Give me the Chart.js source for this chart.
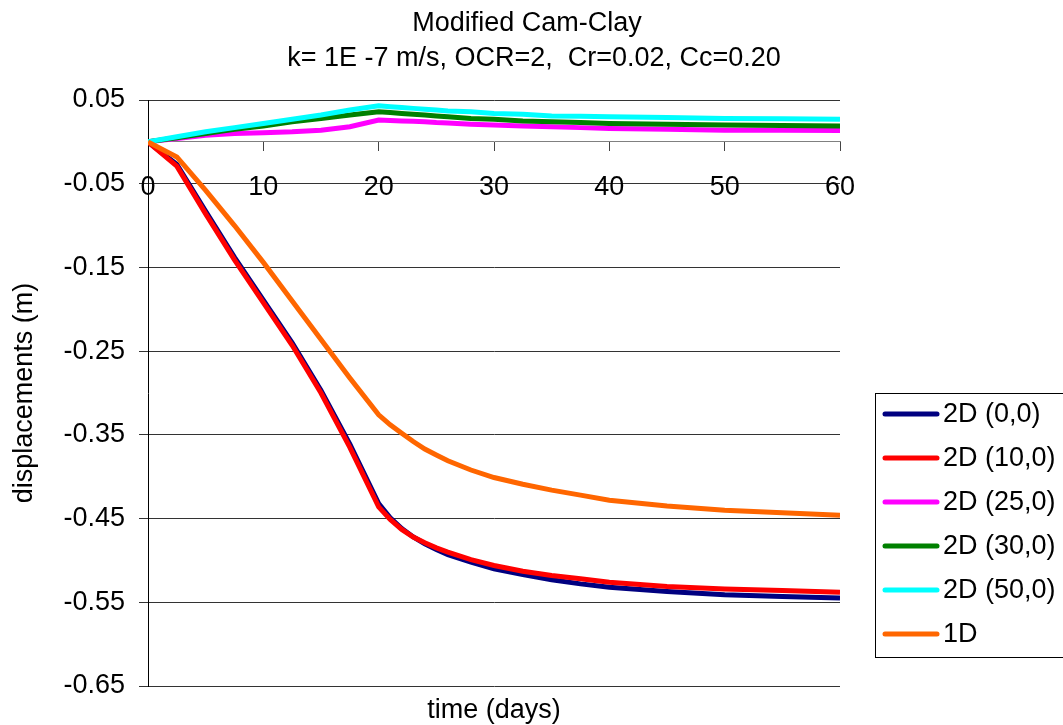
<!DOCTYPE html>
<html>
<head>
<meta charset="utf-8">
<title>Modified Cam-Clay</title>
<script src="https://cdn.jsdelivr.net/npm/chart.js@4/dist/chart.umd.min.js"></script>
<style>
  html, body { margin: 0; padding: 0; background: #fff; }
  canvas { display: block; }
</style>
</head>
<body>
<canvas id="c" width="1063" height="725"></canvas>
<script>
// Time steps (days)
const days = [0, 2.5, 5, 7.5, 10, 12.5, 15, 17.5, 20, 21, 22, 23, 24, 25, 26, 28, 30, 32.5, 35, 37.5, 40, 45, 50, 55, 60];

// Vertical displacements (m) at each monitoring point
const d2D_0_0  = [0, -0.027, -0.083, -0.138, -0.189, -0.240, -0.297, -0.361, -0.432, -0.449, -0.462, -0.472, -0.480, -0.487, -0.493, -0.502, -0.510, -0.517, -0.523, -0.528, -0.532, -0.537, -0.541, -0.543, -0.545];
const d2D_10_0 = [0, -0.029, -0.086, -0.141, -0.192, -0.243, -0.300, -0.365, -0.436, -0.451, -0.463, -0.472, -0.479, -0.485, -0.490, -0.499, -0.506, -0.513, -0.518, -0.522, -0.526, -0.531, -0.534, -0.536, -0.538];
const d2D_25_0 = [0, 0.004, 0.008, 0.010, 0.011, 0.012, 0.014, 0.018, 0.026, 0.0255, 0.025, 0.0245, 0.024, 0.023, 0.0225, 0.021, 0.020, 0.019, 0.018, 0.017, 0.016, 0.015, 0.014, 0.0138, 0.0135];
const d2D_30_0 = [0, 0.005, 0.010, 0.015, 0.019, 0.024, 0.028, 0.032, 0.036, 0.035, 0.034, 0.033, 0.032, 0.031, 0.030, 0.028, 0.027, 0.025, 0.024, 0.023, 0.022, 0.021, 0.020, 0.0195, 0.019];
const d2D_50_0 = [0, 0.006, 0.012, 0.017, 0.022, 0.027, 0.032, 0.038, 0.043, 0.042, 0.041, 0.040, 0.039, 0.038, 0.037, 0.036, 0.034, 0.033, 0.031, 0.0305, 0.030, 0.029, 0.028, 0.0275, 0.027];
const d1D      = [0, -0.018, -0.058, -0.100, -0.144, -0.190, -0.236, -0.282, -0.326, -0.338, -0.348, -0.358, -0.367, -0.374, -0.381, -0.392, -0.401, -0.409, -0.416, -0.422, -0.428, -0.435, -0.440, -0.443, -0.446];

const seriesNames  = ['2D (0,0)', '2D (10,0)', '2D (25,0)', '2D (30,0)', '2D (50,0)', '1D'];
const seriesColors = ['#000080', '#FF0000', '#FF00FF', '#008000', '#00FFFF', '#FF6600'];
const seriesValues = [d2D_0_0, d2D_10_0, d2D_25_0, d2D_30_0, d2D_50_0, d1D];

// Axis ticks
const xTicks = [0, 10, 20, 30, 40, 50, 60];
const yTicks = [0.05, -0.05, -0.15, -0.25, -0.35, -0.45, -0.55, -0.65];

const titleLines = ['Modified Cam-Clay', 'k= 1E -7 m/s, OCR=2,  Cr=0.02, Cc=0.20'];
const xTitle = 'time (days)';
const yTitle = 'displacements (m)';

const FONT = "'Liberation Sans', Arial, Helvetica, sans-serif";
const FS = 27;
Chart.defaults.font.family = FONT;
Chart.defaults.color = '#000';

const datasets = seriesValues.map((vals, i) => ({
  label: seriesNames[i],
  data: days.map((d, j) => ({ x: d, y: vals[j] })),
  borderColor: seriesColors[i],
  backgroundColor: seriesColors[i],
  borderWidth: 5,
  pointRadius: 0,
  tension: 0,
  fill: false,
  order: seriesValues.length - 1 - i
}));

// Two-line title over the page, x-axis title, and the boxed legend on the right
const extrasPlugin = {
  id: 'extras',
  afterDraw(chart) {
    const ctx = chart.ctx;
    const area = chart.chartArea;
    ctx.save();
    ctx.font = FS + 'px ' + FONT;
    ctx.fillStyle = '#000';
    ctx.textAlign = 'center';
    ctx.textBaseline = 'middle';
    ctx.fillText(titleLines[0], 527, 24);
    ctx.fillText(titleLines[1], 534, 59);
    ctx.fillText(xTitle, (area.left + area.right) / 2, 711);

    // legend box
    const bx = 875.5, by = 393.5, bw = 200, bh = 264;
    ctx.fillStyle = '#fff';
    ctx.fillRect(bx, by, bw, bh);
    ctx.strokeStyle = '#000';
    ctx.lineWidth = 1;
    ctx.strokeRect(bx, by, bw, bh);
    chart.data.datasets.forEach((ds, i) => {
      const y = 414 + i * 44;
      ctx.beginPath();
      ctx.strokeStyle = ds.borderColor;
      ctx.lineWidth = 5;
      ctx.lineCap = 'round';
      ctx.moveTo(885, y);
      ctx.lineTo(937, y);
      ctx.stroke();
      ctx.fillStyle = '#000';
      ctx.textAlign = 'left';
      ctx.fillText(ds.label, 943, y + 1);
    });
    ctx.restore();
  }
};

new Chart(document.getElementById('c'), {
  type: 'line',
  data: { datasets },
  plugins: [extrasPlugin],
  options: {
    responsive: false,
    devicePixelRatio: 1,
    animation: false,
    layout: { padding: { left: 0, top: 100, right: 223, bottom: 39 } },
    plugins: {
      legend: { display: false },
      tooltip: { enabled: false },
      title: { display: false }
    },
    scales: {
      x: {
        type: 'linear',
        min: 0,
        max: 60,
        position: { y: 0 },
        afterBuildTicks: s => { s.ticks = xTicks.map(v => ({ value: v })); },
        ticks: {
          font: { size: FS },
          color: '#000',
          padding: 20,
          maxRotation: 0,
          callback: v => String(v)
        },
        grid: {
          drawOnChartArea: false,
          drawTicks: true,
          tickLength: 9,
          color: '#444'
        },
        border: { display: true, color: '#808080', width: 1 }
      },
      y: {
        type: 'linear',
        min: -0.65,
        max: 0.05,
        afterBuildTicks: s => { s.ticks = yTicks.map(v => ({ value: v })); },
        afterFit: s => { s.width = 148; },
        ticks: {
          font: { size: FS },
          color: '#000',
          padding: 14,
          callback: v => Number(v).toFixed(2)
        },
        grid: {
          color: '#333',
          lineWidth: 1,
          drawTicks: true,
          tickLength: 9
        },
        border: { display: true, color: '#000', width: 1 },
        title: {
          display: true,
          text: yTitle,
          font: { size: FS },
          color: '#000',
          padding: { top: 8, bottom: 0 }
        }
      }
    }
  }
});
</script>
</body>
</html>
